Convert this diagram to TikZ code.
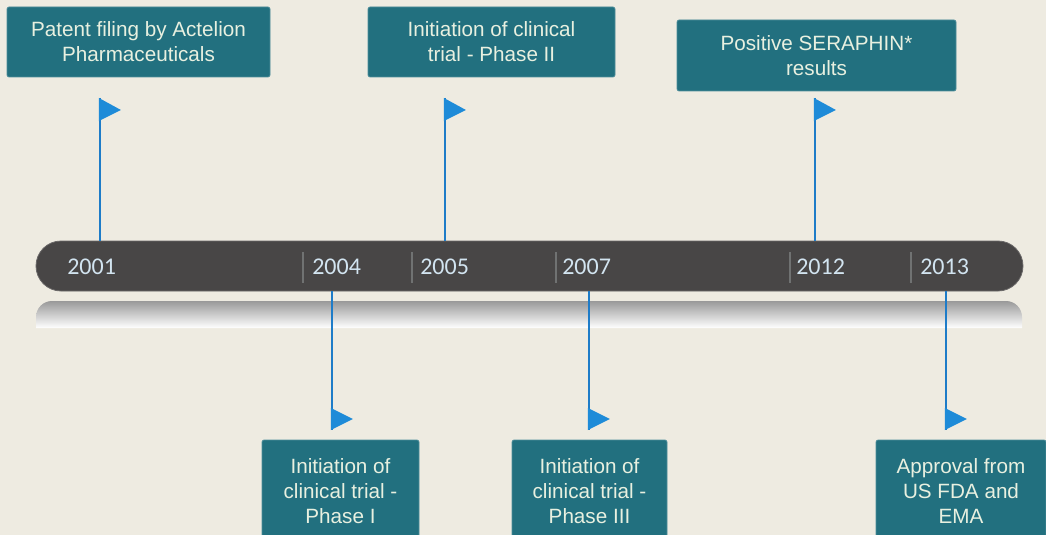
\documentclass[tikz,border=0pt]{standalone}
\usepackage{fontspec}
\setmainfont{Liberation Sans}
\newfontfamily\yearfont{Carlito}
\definecolor{bgc}{HTML}{EEEBE1}
\definecolor{boxc}{HTML}{22707F}
\definecolor{boxedge}{HTML}{4F8E9B}
\definecolor{boxtext}{HTML}{E8F0E0}
\definecolor{barc}{HTML}{484646}
\definecolor{baredge}{HTML}{6A6868}
\definecolor{yearc}{HTML}{D2E4F0}
\definecolor{sepc}{HTML}{707272}
\definecolor{polec}{HTML}{1E7CC8}
\definecolor{flagc}{HTML}{1E8BD8}
\begin{document}
\begin{tikzpicture}[x=0.75pt,y=-0.75pt,
  evbox/.style={rectangle, rounded corners=1.5pt, fill=boxc, draw=boxedge, line width=0.5pt,
    text=boxtext, align=center, font=\fontsize{15.5}{18.8}\selectfont, inner sep=0pt},
  yearlbl/.style={anchor=west, text=yearc, font=\yearfont\fontsize{18}{20}\selectfont, inner sep=0pt},
  pole/.style={draw=polec, line width=1.3pt},
  flagtri/.style={fill=flagc},
  sepline/.style={draw=sepc, line width=0.8pt}]
\useasboundingbox (0,0) rectangle (1046,535);
\fill[bgc] (0,0) rectangle (1046,535);
\clip (0,0) rectangle (1046,535);

% reflection under the bar
\shade[top color=black!40, bottom color=white]
  (36,328) [rounded corners=12pt] -- (36,301) -- (1022,301) [sharp corners] -- (1022,328) -- cycle;

% timeline bar
\node[rectangle, rounded corners=18.75pt, fill=barc, draw=baredge, line width=0.6pt,
  minimum width=740.25pt, minimum height=37.5pt, inner sep=0pt] (bar) at (529.5,266) {};

% separators
\foreach \sx in {303,412,556,790,911} \draw[sepline] (\sx,252) -- (\sx,283);

% years
\node[yearlbl] (y2001) at (67,267) {2001};
\node[yearlbl] (y2004) at (312,267) {2004};
\node[yearlbl] (y2005) at (420,267) {2005};
\node[yearlbl] (y2007) at (562,267) {2007};
\node[yearlbl] (y2012) at (796,267) {2012};
\node[yearlbl] (y2013) at (920,267) {2013};

% upper flags
\coordinate (fa) at (100,98);
\coordinate (fb) at (445,98);
\coordinate (fc) at (815,98);
\foreach \f in {fa,fb,fc} {
  \draw[pole] (\f) -- (\f |- bar.north);
  \fill[flagtri] ([xshift=-0.8pt]\f) -- ++(22,12) -- ++(-22,11) -- cycle;
}

% lower flags
\coordinate (ga) at (332,430);
\coordinate (gb) at (589,430);
\coordinate (gc) at (946,430);
\foreach \g in {ga,gb,gc} {
  \draw[pole] (\g |- bar.south) -- (\g);
  \fill[flagtri] ([xshift=-0.8pt]\g) -- ++(0,-22) -- ++(22,11) -- cycle;
}

% upper boxes
\node[evbox, minimum width=197.25pt, minimum height=52.5pt] (patent) at (138.5,42)
  {Patent filing by Actelion\\Pharmaceuticals};
\node[evbox, minimum width=185.25pt, minimum height=52.5pt] (phase2) at (491.5,42)
  {Initiation of clinical\\trial - Phase II};
\node[evbox, minimum width=209.25pt, minimum height=53.25pt] (seraphin) at (816.5,55.5)
  {Positive SERAPHIN*\\results};

% lower boxes
\node[evbox, minimum width=117.75pt, minimum height=76.5pt] (phase1) at (340.5,491)
  {Initiation of\\clinical trial -\\Phase I};
\node[evbox, minimum width=116.25pt, minimum height=76.5pt] (phase3) at (589.5,491)
  {Initiation of\\clinical trial -\\Phase III};
\node[evbox, minimum width=127.5pt, minimum height=76.5pt] (approval) at (961,491)
  {Approval from\\US FDA and\\EMA};
\end{tikzpicture}
\end{document}
